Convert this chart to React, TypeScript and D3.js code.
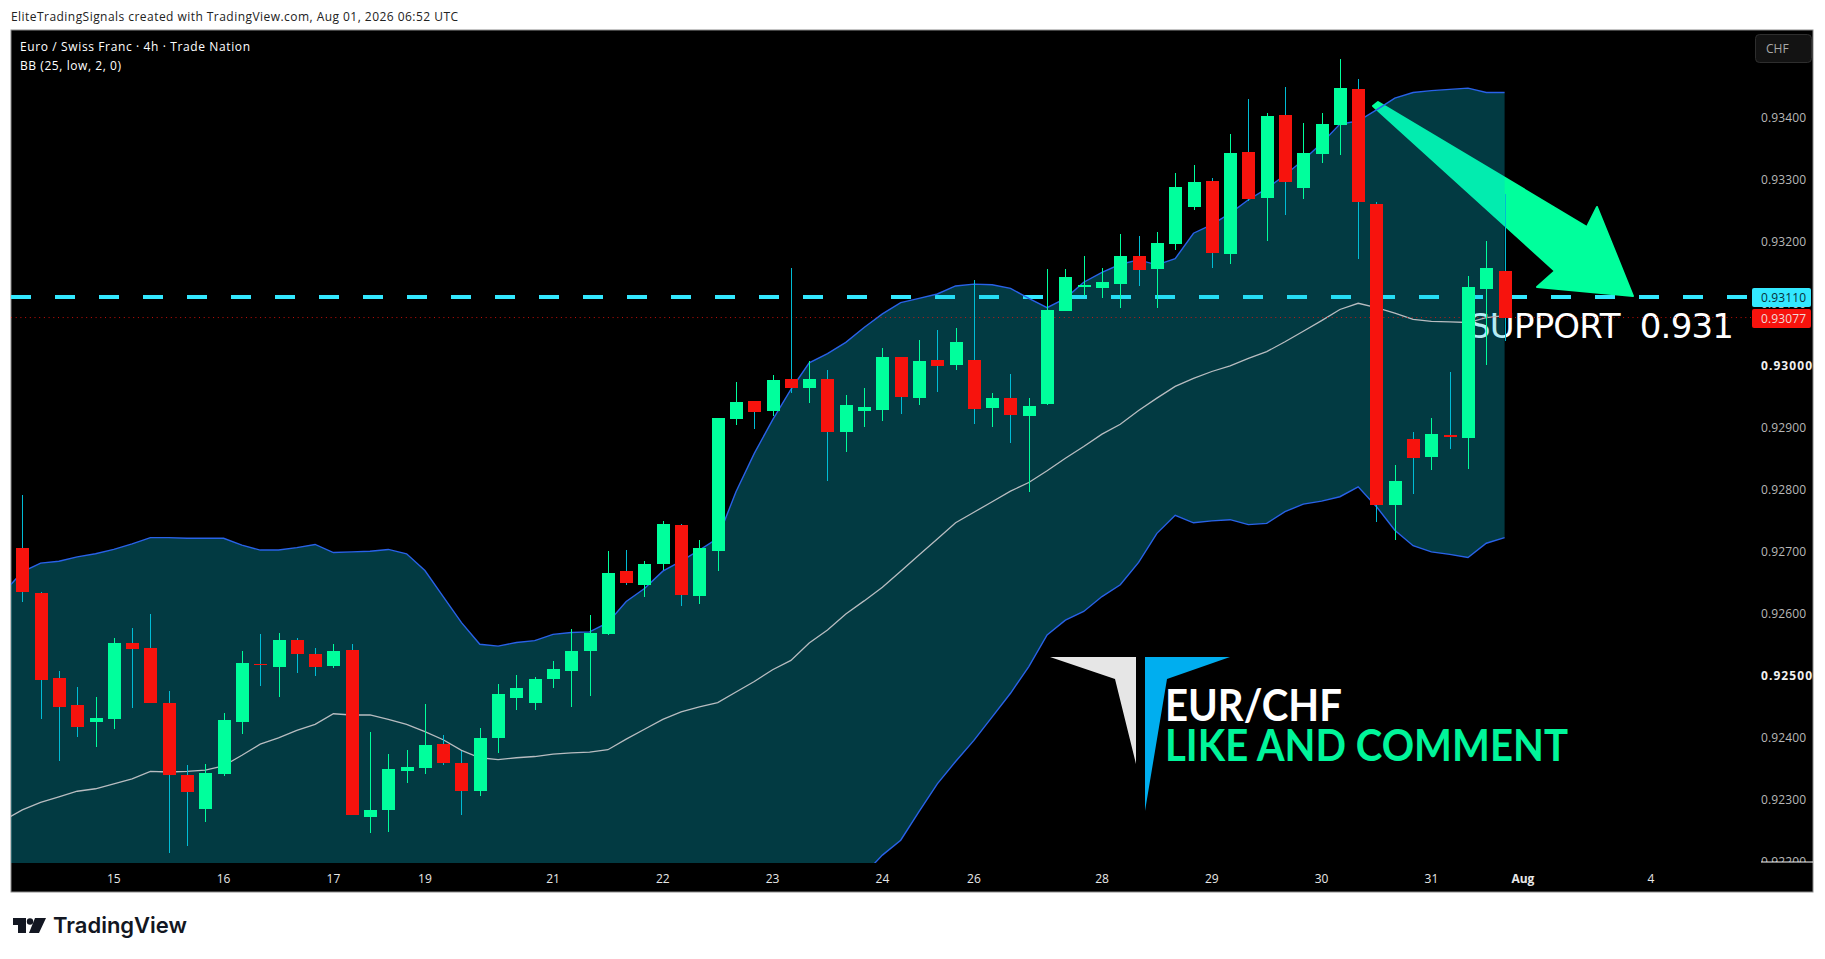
import * as d3 from "d3";

// prices are in 1e-5 CHF (92791 = 0.92791), one entry per 4h bar
const highs = [
  92791, 92635, 92507, 92481, 92465, 92560, 92576, 92599, 92475, 92355,
  92357, 92439, 92539, 92567, 92568, 92560, 92544, 92550, 92550, 92409,
  92373, 92380, 92454, 92404, 92378, 92415, 92486, 92500, 92497, 92523,
  92575, 92597, 92700, 92702, 92684, 92749, 92744, 92718, 92915, 92973,
  92942, 92984, 93157, 93007, 92992, 92952, 92963, 93028, 93013, 93041,
  93057, 93060, 93138, 92955, 92986, 92947, 93155, 93155, 93176, 93157,
  93212, 93209, 93215, 93310, 93323, 93302, 93373, 93430, 93407, 93449,
  93391, 93407, 93494, 93462, 93263, 92839, 92892, 92915, 92989, 93144,
  93200, 93276,
];
const opens = [
  92705, 92633, 92496, 92452, 92424, 92430, 92552, 92544, 92455, 92339,
  92285, 92341, 92424, 92518, 92514, 92557, 92534, 92515, 92541, 92272,
  92283, 92346, 92351, 92389, 92359, 92314, 92399, 92463, 92455, 92494,
  92507, 92539, 92567, 92668, 92646, 92679, 92742, 92628, 92700, 92913,
  92942, 92926, 92978, 92963, 92978, 92892, 92926, 92928, 93013, 92947,
  93009, 93000, 93009, 92931, 92947, 92918, 92938, 93088, 93126, 93125,
  93131, 93176, 93155, 93196, 93255, 93297, 93180, 93344, 93270, 93404,
  93286, 93341, 93388, 93446, 93260, 92775, 92881, 92852, 92888, 92883,
  93123, 93152,
];
const closes = [
  92635, 92493, 92449, 92417, 92431, 92552, 92542, 92456, 92340, 92312,
  92342, 92428, 92520, 92517, 92557, 92535, 92514, 92539, 92275, 92283,
  92349, 92352, 92388, 92359, 92314, 92399, 92470, 92480, 92494, 92510,
  92539, 92568, 92665, 92649, 92679, 92744, 92629, 92705, 92915, 92941,
  92925, 92976, 92963, 92978, 92892, 92936, 92932, 93013, 92949, 93007,
  92999, 93038, 92930, 92947, 92920, 92934, 93089, 93142, 93130, 93134,
  93176, 93154, 93197, 93288, 93296, 93181, 93342, 93268, 93402, 93296,
  93342, 93389, 93447, 93263, 92775, 92813, 92851, 92889, 92884, 93126,
  93157, 93077,
];
const lows = [
  92619, 92430, 92361, 92401, 92385, 92414, 92447, 92456, 92214, 92224,
  92264, 92338, 92406, 92482, 92465, 92503, 92499, 92511, 92274, 92245,
  92248, 92327, 92341, 92355, 92274, 92306, 92375, 92444, 92444, 92480,
  92449, 92467, 92565, 92645, 92627, 92670, 92611, 92615, 92669, 92903,
  92897, 92918, 92955, 92939, 92813, 92860, 92900, 92910, 92921, 92936,
  92957, 92992, 92905, 92901, 92874, 92796, 92936, 93088, 93112, 93109,
  93092, 93128, 93092, 93186, 93251, 93157, 93163, 93265, 93201, 93242,
  93268, 93326, 93339, 93172, 92747, 92718, 92792, 92831, 92865, 92833,
  93000, 93039,
];

// Bollinger bands start one bar earlier, that bar is clipped by the pane
const bbUpper = [
  92634, 92667, 92681, 92684, 92691, 92696, 92703, 92712, 92722, 92722, 92721,
  92721, 92721, 92710, 92702, 92702, 92706, 92711, 92698, 92699, 92700,
  92703, 92696, 92669, 92627, 92585, 92550, 92547, 92553, 92556, 92566,
  92569, 92570, 92585, 92619, 92640, 92668, 92684, 92702, 92721, 92796,
  92858, 92912, 92961, 93004, 93019, 93037, 93061, 93083, 93101, 93108,
  93115, 93128, 93131, 93130, 93124, 93108, 93093, 93108, 93134, 93150,
  93163, 93170, 93162, 93172, 93213, 93227, 93245, 93267, 93285, 93307,
  93331, 93358, 93389, 93394, 93412, 93431, 93440, 93443, 93445, 93447,
  93440, 93440,
];
const bbMiddle = [
  92266, 92283, 92295, 92304, 92313, 92317, 92325, 92333, 92345, 92344, 92345,
  92347, 92354, 92371, 92389, 92399, 92411, 92421, 92438, 92436, 92436,
  92429, 92421, 92409, 92396, 92379, 92367, 92364, 92367, 92369, 92373,
  92375, 92376, 92380, 92397, 92413, 92429, 92441, 92449, 92456, 92473,
  92490, 92509, 92524, 92552, 92573, 92599, 92620, 92642, 92668, 92694,
  92720, 92746, 92763, 92780, 92797, 92811, 92830, 92850, 92869, 92889,
  92905, 92927, 92947, 92966, 92979, 92990, 92999, 93011, 93022, 93038,
  93055, 93072, 93090, 93100, 93093, 93084, 93074, 93071, 93070, 93069,
  93077, 93080,
];
// off the pane until bar 46, those values are estimates
const bbLower = [
  91898, 91899, 91909, 91924, 91935, 91938, 91947, 91954, 91968, 91966, 91969,
  91973, 91987, 92032, 92076, 92096, 92116, 92131, 92178, 92173, 92172,
  92155, 92146, 92149, 92165, 92173, 92180, 92178, 92178, 92178, 92178,
  92178, 92178, 92175, 92175, 92176, 92175, 92170, 92170, 92170, 92150,
  92122, 92106, 92087, 92100, 92127, 92161, 92179, 92210, 92234, 92280,
  92325, 92361, 92395, 92433, 92471, 92514, 92565, 92589, 92603, 92627,
  92646, 92682, 92729, 92758, 92746, 92749, 92751, 92743, 92745, 92764,
  92776, 92781, 92788, 92804, 92772, 92734, 92709, 92699, 92695, 92690,
  92713, 92722,
];

const priceTicks = [93400, 93300, 93200, 93100, 93000, 92900, 92800, 92700, 92600, 92500, 92400, 92300, 92200];
const majorTicks = [93000, 92500];
const supportPrice = 93110;
const lastPrice = 93077;

const dateLabels = ["15", "16", "17", "19", "21", "22", "23", "24", "26", "28", "29", "30", "31", "Aug", "4"];
const dateBars = [5, 11, 17, 22, 29, 35, 41, 47, 52, 59, 65, 71, 77, 82, 89];

const width = 1825;
const height = 959;
const frame = { left: 11, top: 30, right: 1813, bottom: 892 };
const pane = { right: 1751, bottom: 863 };
const bodyWidth = 13;

const GREEN = "#00ff9c";
const RED = "#f7130d";
const CYAN = "#33e8ff";
const UI_FONT = "'Open Sans', sans-serif";

const x = d3.scaleLinear().domain([0, 81]).range([22.3, 1504.6]);
const y = d3.scaleLinear().domain([93000, 93400]).range([365.3, 117.3]);

const bandBars = d3.range(-1, 82);
const bandLine = (values: number[]) =>
  d3.line<number>().x((b) => x(b)).y((_, i) => y(values[i]))(bandBars) ?? "";
const bandArea =
  d3
    .area<number>()
    .x((b) => x(b))
    .y0((_, i) => y(bbLower[i]))
    .y1((_, i) => y(bbUpper[i]))(bandBars) ?? "";

const App = () => {
  return (
    <svg
      width={width}
      height={height}
      viewBox={`0 0 ${width} ${height}`}
      style={{ position: "fixed", left: 0, top: 0, background: "#fff" }}
    >
      <defs>
        <clipPath id="pane">
          <rect x={frame.left} y={frame.top} width={pane.right - frame.left} height={pane.bottom - frame.top} />
        </clipPath>
        <clipPath id="priceAxis">
          <rect x={pane.right} y={frame.top} width={frame.right - pane.right} height={pane.bottom - 1 - frame.top} />
        </clipPath>
      </defs>

      <text x={11} y={21} fontFamily={UI_FONT} fontSize={12} fill="#222" textLength={447}>
        EliteTradingSignals created with TradingView.com, Aug 01, 2026 06:52 UTC
      </text>

      <rect
        x={frame.left}
        y={frame.top}
        width={frame.right - frame.left}
        height={frame.bottom - frame.top}
        fill="#000"
        stroke="#8a8a8a"
        strokeWidth={1}
      />

      <g clipPath="url(#pane)">
        {/* drawings sit under the band fill, it tints them */}
        <line
          x1={frame.left}
          x2={pane.right}
          y1={y(supportPrice)}
          y2={y(supportPrice)}
          stroke={CYAN}
          strokeWidth={4}
          strokeDasharray="20 24"
        />
        <polygon
          points="1378,102 1587,227 1597,207 1633,296 1537,287 1555,271 1373,106"
          fill={GREEN}
          stroke={GREEN}
          strokeWidth={2}
          strokeLinejoin="round"
        />
        <text
          x={1469}
          y={338}
          fontFamily="'DejaVu Sans', sans-serif"
          fontSize={34}
          fill="#fff"
          textLength={265}
          style={{ whiteSpace: "pre" }}
        >
          SUPPORT  0.931
        </text>

        <path d={bandArea} fill="rgba(6,193,220,0.3)" />
        <path d={bandLine(bbUpper)} fill="none" stroke="#2962e8" strokeWidth={1.4} />
        <path d={bandLine(bbLower)} fill="none" stroke="#2962e8" strokeWidth={1.4} />
        <path d={bandLine(bbMiddle)} fill="none" stroke="#b8bcc0" strokeWidth={1.3} />

        <line
          x1={frame.left}
          x2={pane.right}
          y1={y(lastPrice)}
          y2={y(lastPrice)}
          stroke={RED}
          strokeOpacity={0.8}
          strokeWidth={1}
          strokeDasharray="1 3.7"
        />

        <g shapeRendering="crispEdges">
          {opens.map((open, i) => {
            const close = closes[i];
            const up = close >= open;
            const cx = Math.round(x(i));
            const top = y(Math.max(open, close));
            const bottom = y(Math.min(open, close));
            return (
              <g key={i}>
                <line
                  x1={cx + 0.5}
                  x2={cx + 0.5}
                  y1={y(highs[i])}
                  y2={y(lows[i])}
                  stroke={up ? GREEN : "#00bcd4"}
                  strokeWidth={1}
                />
                <rect
                  x={cx - (bodyWidth - 1) / 2}
                  y={top}
                  width={bodyWidth}
                  height={Math.max(bottom - top, 1)}
                  fill={up ? GREEN : RED}
                />
              </g>
            );
          })}
        </g>
      </g>

      {/* logo and call to action */}
      <polygon points="1050,657 1136,657 1136,764 1115,679" fill="#e6e6e6" />
      <polygon points="1145,657 1230,657 1167,679 1145,811" fill="#00aeef" />
      <text
        x={1165}
        y={721}
        fontFamily="Lato, sans-serif"
        fontWeight={700}
        fontSize={43}
        fill="#fff"
        textLength={177}
        lengthAdjust="spacingAndGlyphs"
      >
        EUR/CHF
      </text>
      <text
        x={1165}
        y={761}
        fontFamily="Lato, sans-serif"
        fontWeight={700}
        fontSize={43}
        fill="#00f59a"
        textLength={403}
        lengthAdjust="spacingAndGlyphs"
      >
        LIKE AND COMMENT
      </text>

      {/* legend */}
      <text x={20} y={51} fontFamily={UI_FONT} fontSize={12} fill="#fff" textLength={230}>
        Euro / Swiss Franc · 4h · Trade Nation
      </text>
      <text x={20} y={70} fontFamily={UI_FONT} fontSize={12} fill="#fff" textLength={101}>
        BB (25, low, 2, 0)
      </text>

      {/* time axis */}
      {dateLabels.map((label, i) => (
        <text
          key={label}
          x={x(dateBars[i])}
          y={883}
          textAnchor="middle"
          fontFamily={UI_FONT}
          fontSize={12}
          fontWeight={label === "Aug" ? 700 : 400}
          fill="#e8e8e8"
        >
          {label}
        </text>
      ))}

      {/* price axis */}
      <g clipPath="url(#priceAxis)">
        {priceTicks.map((tick) => {
          const major = majorTicks.includes(tick);
          return (
            <text
              key={tick}
              x={1761}
              y={y(tick) + 5}
              fontFamily={UI_FONT}
              fontSize={12}
              fontWeight={major ? 700 : 400}
              fill={major ? "#f0f0f0" : "#b8b8b8"}
              textLength={major ? 51 : 45}
            >
              {d3.format(".5f")(tick / 1e5)}
            </text>
          );
        })}
      </g>
      <line x1={1761} x2={frame.right} y1={862} y2={862} stroke="#fff" strokeWidth={1} />

      <rect x={1752} y={288} width={59} height={19} rx={2} fill={CYAN} />
      <text x={1761} y={302} fontFamily={UI_FONT} fontSize={12} fill="#06303a" textLength={45}>
        {d3.format(".5f")(supportPrice / 1e5)}
      </text>
      <rect x={1752} y={309} width={59} height={19} rx={2} fill={RED} />
      <text x={1761} y={323} fontFamily={UI_FONT} fontSize={12} fill="#f0d8d8" textLength={45}>
        {d3.format(".5f")(lastPrice / 1e5)}
      </text>

      <rect x={1755.5} y={34.5} width={56} height={28} rx={4} fill="#131313" stroke="#2e2e2e" />
      <text x={1766} y={53} fontFamily={UI_FONT} fontSize={12} fill="#a8a8a8">
        CHF
      </text>

      {/* TradingView mark */}
      <g fill="#131722">
        <polygon points="13,918 26,918 26,933 18,933 18,925 13,925" />
        <circle cx={30} cy={921.5} r={3.2} />
        <polygon points="35,918 46,918 39,933 29,933" />
      </g>
      <text x={53} y={933} fontFamily="Inter, sans-serif" fontWeight={600} fontSize={22} fill="#131722" textLength={134}>
        TradingView
      </text>
    </svg>
  );
};

export default App;
